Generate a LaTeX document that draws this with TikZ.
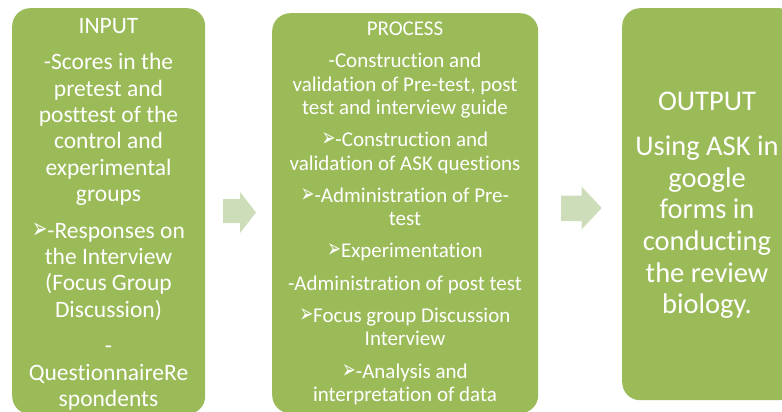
\documentclass[tikz,border=0pt]{standalone}
\usepackage{fontspec}
\usepackage{graphicx}
\setmainfont{Carlito}[Ligatures=NoCommon]
\newfontfamily\dingfont{DejaVu Sans}
% outlined arrowhead bullet, stretched to about cap height
\newcommand{\arrbul}{\resizebox{0.65em}{0.66em}{\dingfont\char"27A2}}
\definecolor{panelgreen}{HTML}{9BBB59}
\definecolor{arrowgreen}{HTML}{CDDDB9}
\begin{document}
\begin{tikzpicture}[x=1pt,y=-1pt,
  panel/.style={fill=panelgreen, draw=none, rounded corners=18pt,
    inner sep=0pt, anchor=north west},
  paneltext/.style={text=white, align=center, inner sep=0pt, anchor=north},
  blockarrow/.style={fill=arrowgreen, draw=none}]
\useasboundingbox (0,0) rectangle (782,412);
\clip (0,0) rectangle (782,412);

% the three panels
\node[panel, minimum width=193pt, minimum height=406pt] (input) at (12,8) {};
\node[panel, minimum width=266pt, minimum height=400pt] (process) at (272,13) {};
\node[panel, minimum width=175pt, minimum height=392pt] (output) at (622,8) {};

% block arrows between the panels
\fill[blockarrow] (223,199) -- (240,199) -- (240,192) -- (256,212.5)
  -- (240,233) -- (240,223) -- (223,223) -- cycle;
\fill[blockarrow] (561,195.7) -- (581.7,195.7) -- (581.7,186.7) -- (601.7,208)
  -- (581.7,229.3) -- (581.7,221) -- (561,221) -- cycle;

% panel texts
\node[paneltext, font=\fontsize{23.5}{26.3}\selectfont] (inputtext) at (108.5,17.8)
  {INPUT\\[10.5pt]
   -Scores in the\\ pretest and\\ posttest of the\\ control and\\ experimental\\ groups\\[10.5pt]
   \arrbul-Responses on\\ the Interview\\ (Focus Group\\ Discussion)\\[10.5pt]
   -\\ QuestionnaireRe\\ spondents};

\node[paneltext, font=\fontsize{21}{23.3}\selectfont] (processtext) at (405,21.7)
  {PROCESS\\[9pt]
   -Construction and\\ validation of Pre-test, post\\ test and interview guide\\[9pt]
   \arrbul-Construction and\\ validation of ASK questions\\[9pt]
   \arrbul-Administration of Pre-\\ test\\[9pt]
   \arrbul Experimentation\\[9pt]
   -Administration of post test\\[9pt]
   \arrbul Focus group Discussion\\ Interview\\[9pt]
   \arrbul-Analysis and\\ interpretation of data};

\node[paneltext, font=\fontsize{28.5}{31.6}\selectfont] (outputtext) at (707,92)
  {OUTPUT\\[13.4pt]
   Using ASK in\\ google\\ forms in\\ conducting\\ the review\\ biology.};
\end{tikzpicture}
\end{document}
